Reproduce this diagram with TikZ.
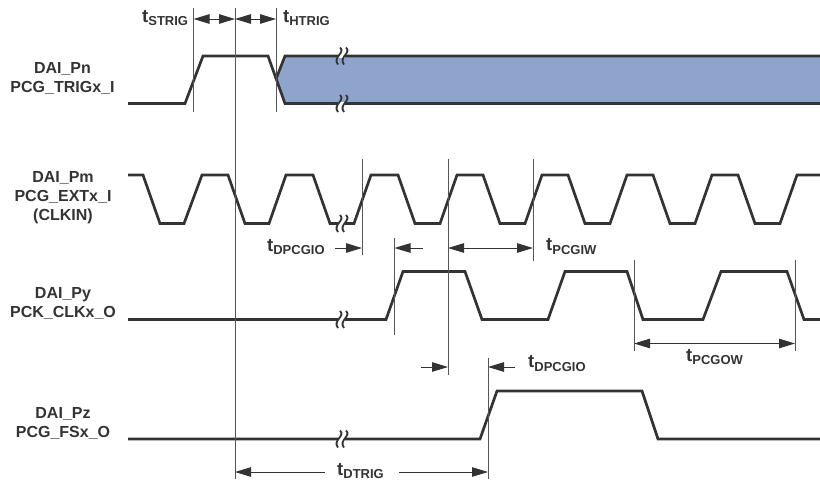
\documentclass[tikz,border=0pt]{standalone}
\usepackage{fontspec}
\setmainfont{Liberation Sans}
\usetikzlibrary{arrows.meta,positioning}
\definecolor{inkD}{HTML}{333333}
\definecolor{guideC}{HTML}{555555}
\definecolor{busC}{HTML}{8FA4CC}
\newcommand{\tlab}[1]{t\raisebox{-3.6pt}{\fontsize{13}{13}\selectfont #1}}

\begin{document}
\begin{tikzpicture}
  [x=1pt,y=-1pt,
   wave/.style={draw=inkD,line width=2.7pt},
   guide/.style={draw=guideC,line width=0.95pt},
   dimN/.style={draw=inkD,line width=1pt,{Triangle[length=16pt,width=9.5pt]}-{Triangle[length=16pt,width=9.5pt]}},
   dimR/.style={draw=inkD,line width=1pt,-{Triangle[length=16pt,width=9.5pt]}},
   sigN/.style={font=\fontsize{16}{19}\selectfont\bfseries,text=inkD,align=center,inner sep=0pt},
   timeN/.style={font=\fontsize{18.5}{18}\selectfont\bfseries,text=inkD,anchor=base west,inner sep=0pt},
   brk/.pic={
     \draw[white,line width=3.6pt] (-3,0) -- (4,0);
     \draw[inkD,line width=1.8pt] (-1,-8.5) .. controls (5,-3) and (-9,1) .. (-3,8.5);
     \draw[inkD,line width=1.8pt] (5,-8.5) .. controls (11,-3) and (-3,1) .. (3,8.5);
   }]
  \useasboundingbox (0,0) rectangle (820,480);

  % signal names
  \node[sigN] (pn) at (62.5,78) {DAI\_Pn\\PCG\_TRIGx\_I};
  \node[sigN] (pm) at (63,198) {DAI\_Pm\\PCG\_EXTx\_I\\(CLKIN)};
  \node[sigN] (py) at (63,303) {DAI\_Py\\PCK\_CLKx\_O};
  \node[sigN] (pz) at (63,423) {DAI\_Pz\\PCG\_FSx\_O};

  % bus after the hold time
  \fill[busC] (276,79) -- (285,56) -- (820,56) -- (820,103.5) -- (285,103.5) -- cycle;
  \draw[wave] (276,79) -- (285,56) -- (820,56);
  \draw[wave] (128,103.5) -- (185,103.5) -- (203,56) -- (268,56) -- (285,103.5) -- (820,103.5);

  \draw[wave] (128,175) -- (143,175) -- (160,223.5) -- (184,223.5) -- (202,175) -- (228,175)
    -- (245,223.5) -- (269,223.5) -- (286,175) -- (313,175) -- (330,223.5) -- (354,223.5)
    -- (371,175) -- (398,175) -- (415,223.5) -- (440,223.5) -- (457,175) -- (483,175)
    -- (500,223.5) -- (525,223.5) -- (542,175) -- (568,175) -- (585,223.5) -- (610,223.5)
    -- (627,175) -- (653,175) -- (670,223.5) -- (695,223.5) -- (712,175) -- (738,175)
    -- (755,223.5) -- (780,223.5) -- (797,175) -- (820,175);

  \draw[wave] (128,319.5) -- (386,319.5) -- (403,271.5) -- (465,271.5) -- (482,319.5)
    -- (548,319.5) -- (565,271.5) -- (627,271.5) -- (643,319.5) -- (703,319.5)
    -- (721,271.5) -- (787,271.5) -- (804,319.5) -- (820,319.5);

  \draw[wave] (128,439) -- (480,439) -- (497,391) -- (642,391) -- (658,439) -- (820,439);

  \foreach \y in {56,103.5,223.5,319.5,439}
    \pic at (341,\y) {brk};

  % timing guides
  \foreach \g/\x/\a/\b in {gA/193.5/8/112,gB/235/8/479,gC/276/8/112,gD/362/159/255,
      gE/394.5/238/335,gF/448/159/375,gG/533/159/261,gH/634/260/350.5,gJ/795/260/350.5,
      gK/488/358/479} {
    \coordinate (\g top) at (\x,\a);
    \coordinate (\g bot) at (\x,\b);
    \draw[guide] (\g top) -- (\g bot);
  }

  % arrow rows and free tails
  \coordinate (rowS) at (0,19);
  \coordinate (rowP) at (0,248);
  \coordinate (rowO) at (0,343.5);
  \coordinate (rowQ) at (0,367);
  \coordinate (rowD) at (0,472);
  \coordinate (tailD) at (335,248);
  \coordinate (tailE) at (423,248);
  \coordinate (tailF) at (421,367);
  \coordinate (tailK) at (515,367);
  \coordinate (tailB) at (325,472);
  \coordinate (tailM) at (399,472);

  \draw[dimN] (gAtop |- rowS) -- (gBtop |- rowS);
  \draw[dimN] (gBtop |- rowS) -- (gCtop |- rowS);
  \draw[dimN] (gFtop |- rowP) -- (gGtop |- rowP);
  \draw[dimN] (gHtop |- rowO) -- (gJtop |- rowO);
  \draw[dimR] (tailD) -- (gDtop |- rowP);
  \draw[dimR] (tailE) -- (gEtop |- rowP);
  \draw[dimR] (tailF) -- (gFtop |- rowQ);
  \draw[dimR] (tailK) -- (gKtop |- rowQ);
  \draw[dimR] (tailB) -- (gBtop |- rowD);
  \draw[dimR] (tailM) -- (gKtop |- rowD);

  % timing names
  \node[timeN] (tstrig) at (142,22) {\tlab{STRIG}};
  \node[timeN] (thtrig) at (283,22) {\tlab{HTRIG}};
  \node[timeN] (tdpcgioA) at (267,251) {\tlab{DPCGIO}};
  \node[timeN] (tpcgiw) at (546,250.5) {\tlab{PCGIW}};
  \node[timeN] (tpcgow) at (686,361) {\tlab{PCGOW}};
  \node[timeN] (tdpcgioB) at (528,367.5) {\tlab{DPCGIO}};
  \node[timeN] (tdtrig) at (337,475) {\tlab{DTRIG}};
\end{tikzpicture}
\end{document}
